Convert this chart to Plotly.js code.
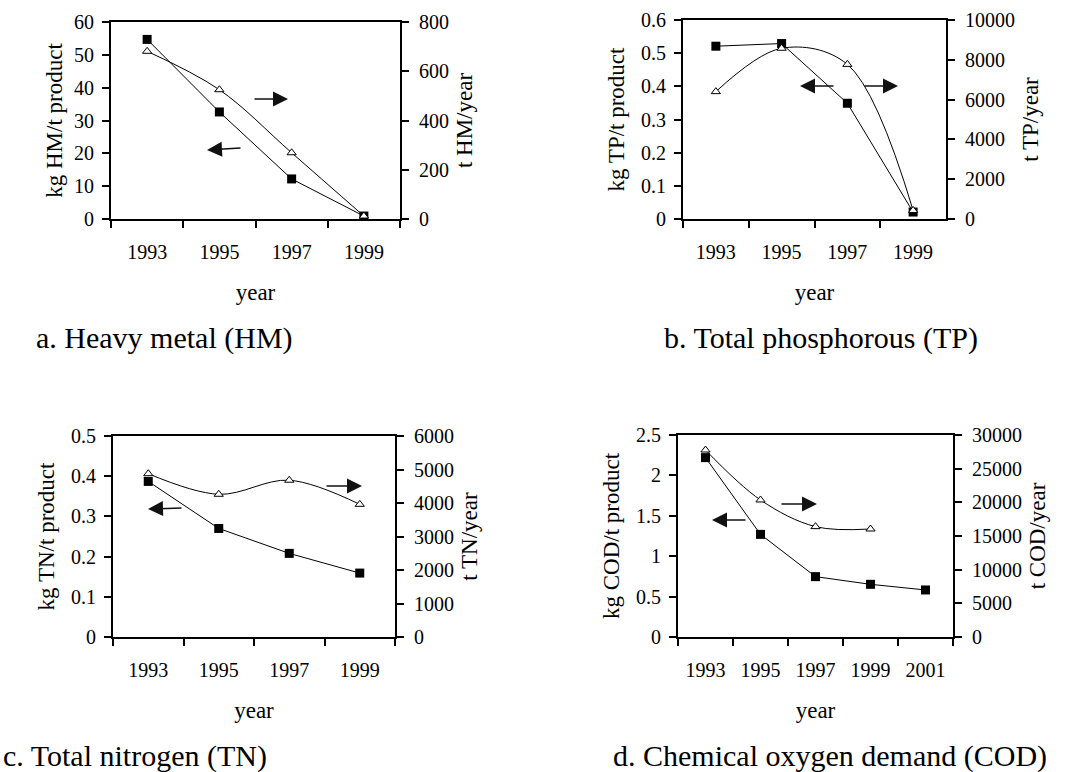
<!DOCTYPE html>
<html>
<head>
<meta charset="utf-8">
<script src="https://cdn.plot.ly/plotly-3.0.1.min.js"></script>
<style>
  html, body { margin: 0; padding: 0; background: #fff; }
  #chart { width: 1080px; height: 772px; }
</style>
</head>
<body>
<div id="chart"></div>
<script>
// ---- data ----
const yearsABC = ['1993', '1995', '1997', '1999'];
const yearsD = ['1993', '1995', '1997', '1999', '2001'];

const hmPerProduct = [54.7, 32.6, 12.2, 0.9];      // kg HM/t product (left)
const hmPerYear = [681, 525, 269, 12];              // t HM/year (right)

const tpPerProduct = [0.521, 0.529, 0.349, 0.021];  // kg TP/t product (left)
const tpPerYear = [6400, 8580, 7770, 430];          // t TP/year (right)

const tnPerProduct = [0.387, 0.27, 0.208, 0.159];   // kg TN/t product (left)
const tnPerYear = [4875, 4260, 4680, 3960];         // t TN/year (right)

const codPerProduct = [2.22, 1.27, 0.747, 0.652, 0.582]; // kg COD/t product (left)
const codPerYear = [27770, 20350, 16390, 16040];         // t COD/year (right)

const captions = ['a. Heavy metal (HM)', 'b. Total phosphorous (TP)',
                  'c. Total nitrogen (TN)', 'd. Chemical oxygen demand (COD)'];

// ---- helpers (layout only) ----
const W = 1080, H = 772;
const FONT = 'Liberation Serif, Times New Roman, serif';
const px = v => v / W;
const py = v => 1 - v / H;
const dx = (l, r) => [l / W, r / W];
const dy = (t, b) => [1 - b / H, 1 - t / H];

const sqStyle = { symbol: 'square', size: 9, color: '#000' };
const triStyle = { symbol: 'triangle-up', size: 8, color: '#fff', line: { color: '#000', width: 1 } };

function sq(x, y, xa, ya) {
  return { x, y, xaxis: xa, yaxis: ya, type: 'scatter', mode: 'lines+markers',
    line: { color: '#000', width: 1 }, marker: sqStyle, cliponaxis: false, showlegend: false, hoverinfo: 'x+y' };
}
function tri(x, y, xa, ya) {
  return { x, y, xaxis: xa, yaxis: ya, type: 'scatter', mode: 'lines+markers',
    line: { color: '#000', width: 1, shape: 'spline', smoothing: 1 }, marker: triStyle, cliponaxis: false, showlegend: false, hoverinfo: 'x+y' };
}

const data = [
  sq(yearsABC, hmPerProduct, 'x', 'y'),
  tri(yearsABC, hmPerYear, 'x', 'y2'),
  sq(yearsABC, tpPerProduct, 'x2', 'y3'),
  tri(yearsABC, tpPerYear, 'x2', 'y4'),
  sq(yearsABC, tnPerProduct, 'x3', 'y5'),
  tri(yearsABC, tnPerYear, 'x3', 'y6'),
  sq(yearsD, codPerProduct, 'x4', 'y7'),
  tri(yearsD.slice(0, codPerYear.length), codPerYear, 'x4', 'y8'),
];

const tickFont = { family: FONT, size: 20, color: '#000' };
const titleFont = { family: FONT, size: 23, color: '#000' };

function xAxis(domain, anchor, cats) {
  return { domain, anchor, type: 'category', categoryarray: cats, categoryorder: 'array',
    range: [-0.5, cats.length - 0.5], tickson: 'boundaries', ticks: 'outside', ticklen: 7, tickwidth: 2,
    tickcolor: '#000', showline: true, linewidth: 2, linecolor: '#000', mirror: true,
    showgrid: false, zeroline: false, tickfont: tickFont, ticklabelstandoff: 14,
    title: { text: 'year', font: titleFont, standoff: 22 }, automargin: false, fixedrange: true };
}
function yLeft(domain, anchor, range, dtick, title, standoff) {
  return { domain, anchor, range, dtick, tick0: 0, ticks: 'outside', ticklen: 7, tickwidth: 2,
    tickcolor: '#000', showline: true, linewidth: 2, linecolor: '#000', showgrid: false,
    zeroline: false, tickfont: tickFont, ticklabelstandoff: 4,
    title: { text: title, font: titleFont, standoff: standoff }, automargin: false, fixedrange: true };
}
function yRight(overlay, anchor, range, dtick, title) {
  return { overlaying: overlay, anchor, side: 'right', range, dtick, tick0: 0, tickformat: 'd',
    ticks: 'outside', ticklen: 7, tickwidth: 2, tickcolor: '#000', showline: true, linewidth: 2,
    linecolor: '#000', showgrid: false, zeroline: false, tickfont: tickFont, ticklabelstandoff: 6,
    title: { text: title, font: titleFont, standoff: 8 }, automargin: false, fixedrange: true };
}

// arrows: [tailX, tailY, tipX, tipY] in page pixels
const arrowPx = [
  [253, 99, 288, 99], [242, 148, 207, 150],
  [835, 86, 800, 86], [863, 86, 898, 86],
  [325, 486, 362, 486], [183, 508, 148, 509],
  [780, 504, 817, 504], [747, 520, 712, 520],
];
const arrows = arrowPx.map(([tx, ty, hx, hy]) => ({
  xref: 'paper', yref: 'paper', x: px(hx), y: py(hy), ax: tx - hx, ay: ty - hy,
  axref: 'pixel', ayref: 'pixel', text: '', showarrow: true, arrowhead: 2,
  arrowsize: 2, arrowwidth: 1.5, arrowcolor: '#111', standoff: 0, startstandoff: 0
}));

const captionPos = [[164, 338], [821, 338], [135, 756], [830, 756]];
const captionAnn = captions.map((t, i) => ({
  xref: 'paper', yref: 'paper', x: px(captionPos[i][0]), y: py(captionPos[i][1]),
  xanchor: 'center', yanchor: 'middle', text: t, showarrow: false,
  font: { family: FONT, size: 30, color: '#000' }
}));

const layout = {
  width: W, height: H,
  margin: { l: 0, r: 0, t: 0, b: 0 },
  paper_bgcolor: '#fff', plot_bgcolor: '#fff',
  font: { family: FONT, color: '#000' },
  showlegend: false,
  xaxis: xAxis(dx(111, 400), 'y', yearsABC),
  yaxis: yLeft(dy(22, 219), 'x', [0, 60], 10, 'kg HM/t product', 5),
  yaxis2: yRight('y', 'x', [0, 800], 200, 't HM/year'),
  xaxis2: xAxis(dx(683, 946), 'y3', yearsABC),
  yaxis3: yLeft(dy(20, 219), 'x2', [0, 0.6], 0.1, 'kg TP/t product', 10),
  yaxis4: yRight('y3', 'x2', [0, 10000], 2000, 't TP/year'),
  xaxis3: xAxis(dx(113, 395), 'y5', yearsABC),
  yaxis5: yLeft(dy(436, 637), 'x3', [0, 0.5], 0.1, 'kg TN/t product', 10),
  yaxis6: yRight('y5', 'x3', [0, 6000], 1000, 't TN/year'),
  xaxis4: xAxis(dx(678, 953), 'y7', yearsD),
  yaxis7: yLeft(dy(435, 637), 'x4', [0, 2.5], 0.5, 'kg COD/t product', 10),
  yaxis8: yRight('y7', 'x4', [0, 30000], 5000, 't COD/year'),
  annotations: arrows.concat(captionAnn),
};

Plotly.newPlot('chart', data, layout, { displayModeBar: false, staticPlot: true });
</script>
</body>
</html>
